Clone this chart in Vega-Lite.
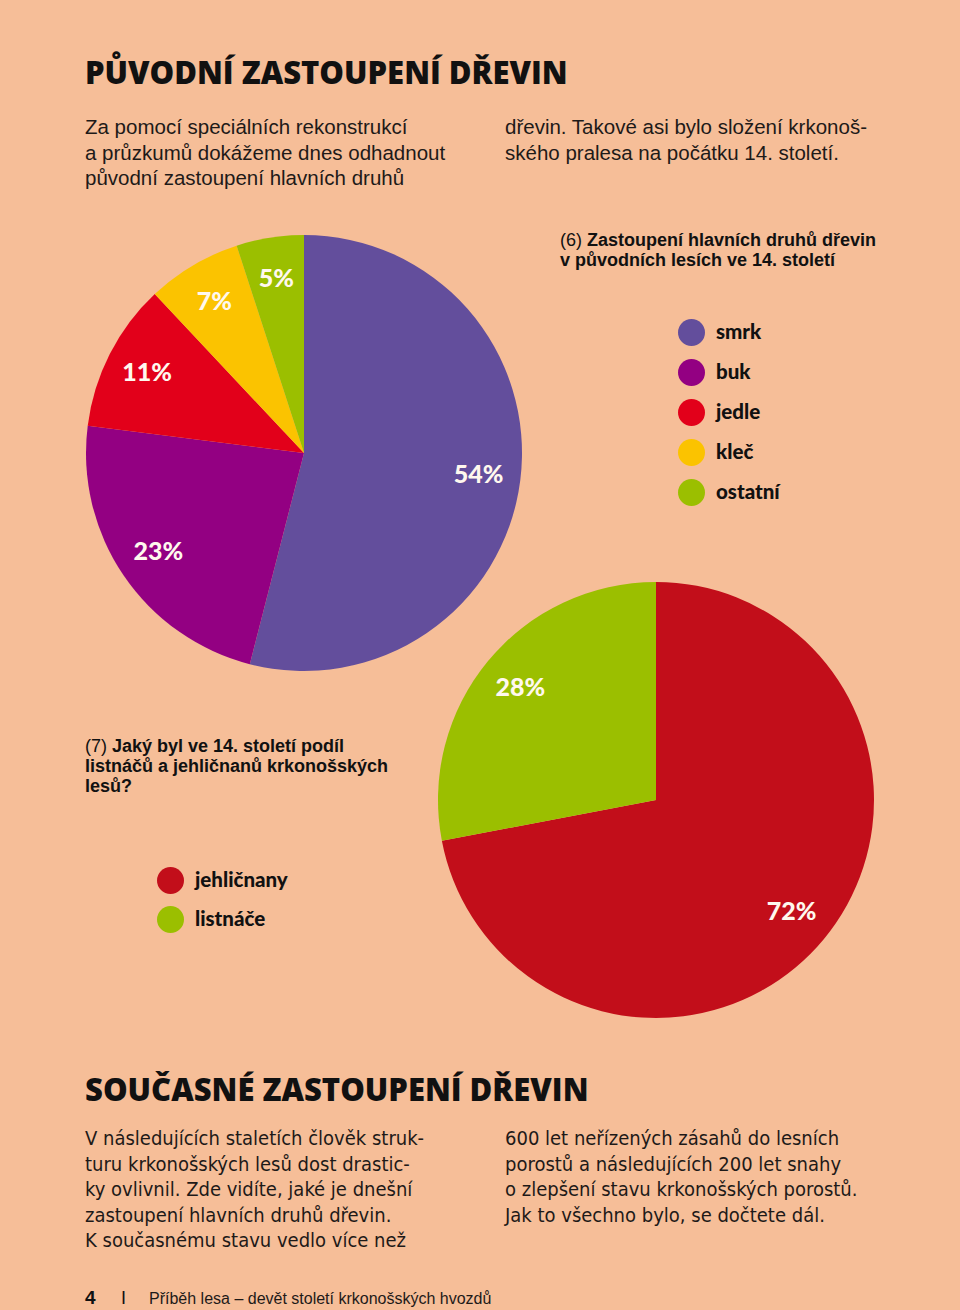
{
  "$schema": "https://vega.github.io/schema/vega-lite/v6.json",
  "width": 960,
  "height": 1310,
  "padding": 0,
  "autosize": {"type": "fit", "contains": "padding"},
  "background": "#F6BE98",
  "config": {"view": {"stroke": null}},
  "datasets": {
    "original": [
      {"druh": "smrk", "podil": 0.54},
      {"druh": "buk", "podil": 0.23},
      {"druh": "jedle", "podil": 0.11},
      {"druh": "kleč", "podil": 0.07},
      {"druh": "ostatní", "podil": 0.05}
    ],
    "skupiny": [
      {"skupina": "jehličnany", "podil": 0.72},
      {"skupina": "listnáče", "podil": 0.28}
    ]
  },
  "resolve": {"scale": {"color": "independent", "theta": "independent"}, "legend": {"color": "independent"}},
  "layer": [
    {
      "data": {"name": "original"},
      "layer": [
        {
          "mark": {"type": "arc", "x": 304, "y": 453, "outerRadius": 218},
          "encoding": {
            "theta": {"field": "podil", "type": "quantitative", "stack": true},
            "order": {"field": "podil", "sort": "descending"},
            "color": {
              "field": "druh", "type": "nominal",
              "scale": {"domain": ["smrk", "buk", "jedle", "kleč", "ostatní"], "range": ["#634E9C", "#930082", "#E2001A", "#FBC300", "#9BBF00"]},
              "legend": {"orient": "none", "legendX": 678, "legendY": 319, "title": null, "symbolType": "circle", "symbolSize": 729, "symbolStrokeWidth": 0, "symbolOpacity": 1, "labelFont": "Lato", "labelFontWeight": 900, "labelFontSize": 20.5, "labelColor": "#111111", "labelOffset": 11, "rowPadding": 13, "padding": 0}
            }
          }
        },
        {
          "mark": {"type": "text", "x": 304, "y": 453, "radius": 176, "font": "Lato", "fontWeight": 900, "fontSize": 25, "color": "#FFF8EE"},
          "encoding": {
            "theta": {"field": "podil", "type": "quantitative", "stack": true},
            "order": {"field": "podil", "sort": "descending"},
            "text": {"field": "podil", "type": "quantitative", "format": ".0%"}
          }
        }
      ]
    },
    {
      "data": {"name": "skupiny"},
      "layer": [
        {
          "mark": {"type": "arc", "x": 656, "y": 800, "outerRadius": 218},
          "encoding": {
            "theta": {"field": "podil", "type": "quantitative", "stack": true},
            "order": {"field": "podil", "sort": "descending"},
            "color": {
              "field": "skupina", "type": "nominal",
              "scale": {"domain": ["jehličnany", "listnáče"], "range": ["#C20E1A", "#9BBF00"]},
              "legend": {"orient": "none", "legendX": 157, "legendY": 867, "title": null, "symbolType": "circle", "symbolSize": 729, "symbolStrokeWidth": 0, "symbolOpacity": 1, "labelFont": "Lato", "labelFontWeight": 900, "labelFontSize": 20.5, "labelColor": "#111111", "labelOffset": 11, "rowPadding": 12, "padding": 0}
            }
          }
        },
        {
          "mark": {"type": "text", "x": 656, "y": 800, "radius": 176, "font": "Lato", "fontWeight": 900, "fontSize": 25, "color": "#FFF8EE"},
          "encoding": {
            "theta": {"field": "podil", "type": "quantitative", "stack": true},
            "order": {"field": "podil", "sort": "descending"},
            "text": {"field": "podil", "type": "quantitative", "format": ".0%"}
          }
        }
      ]
    },
    {
      "data": {"values": [{"t": "PŮVODNÍ ZASTOUPENÍ DŘEVIN"}]},
      "mark": {"type": "text", "x": 85, "y": 84, "align": "left", "baseline": "alphabetic", "font": "Open Sans", "fontWeight": 800, "fontSize": 31, "color": "#111111"},
      "encoding": {"text": {"field": "t"}}
    },
    {
      "data": {"values": [{"t": "Za pomocí speciálních rekonstrukcí\na průzkumů dokážeme dnes odhadnout\npůvodní zastoupení hlavních druhů"}]},
      "mark": {"type": "text", "x": 85, "y": 134, "align": "left", "baseline": "alphabetic", "font": "Liberation Sans, Arial, sans-serif", "fontSize": 20.5, "lineBreak": "\n", "lineHeight": 25.5, "color": "#1E1A18"},
      "encoding": {"text": {"field": "t"}}
    },
    {
      "data": {"values": [{"t": "dřevin. Takové asi bylo složení krkonoš-\nského pralesa na počátku 14. století."}]},
      "mark": {"type": "text", "x": 505, "y": 134, "align": "left", "baseline": "alphabetic", "font": "Liberation Sans, Arial, sans-serif", "fontSize": 20.5, "lineBreak": "\n", "lineHeight": 25.5, "color": "#1E1A18"},
      "encoding": {"text": {"field": "t"}}
    },
    {
      "data": {"values": [{"t": "(6)"}]},
      "mark": {"type": "text", "x": 560, "y": 246, "align": "left", "baseline": "alphabetic", "font": "Liberation Sans, Arial, sans-serif", "fontSize": 18, "color": "#111111"},
      "encoding": {"text": {"field": "t"}}
    },
    {
      "data": {"values": [{"t": "Zastoupení hlavních druhů dřevin"}]},
      "mark": {"type": "text", "x": 587, "y": 246, "align": "left", "baseline": "alphabetic", "font": "Liberation Sans, Arial, sans-serif", "fontWeight": "bold", "fontSize": 18, "color": "#111111"},
      "encoding": {"text": {"field": "t"}}
    },
    {
      "data": {"values": [{"t": "v původních lesích ve 14. století"}]},
      "mark": {"type": "text", "x": 560, "y": 266, "align": "left", "baseline": "alphabetic", "font": "Liberation Sans, Arial, sans-serif", "fontWeight": "bold", "fontSize": 18, "color": "#111111"},
      "encoding": {"text": {"field": "t"}}
    },
    {
      "data": {"values": [{"t": "(7)"}]},
      "mark": {"type": "text", "x": 85, "y": 752, "align": "left", "baseline": "alphabetic", "font": "Liberation Sans, Arial, sans-serif", "fontSize": 18, "color": "#111111"},
      "encoding": {"text": {"field": "t"}}
    },
    {
      "data": {"values": [{"t": "Jaký byl ve 14. století podíl"}]},
      "mark": {"type": "text", "x": 112, "y": 752, "align": "left", "baseline": "alphabetic", "font": "Liberation Sans, Arial, sans-serif", "fontWeight": "bold", "fontSize": 18, "color": "#111111"},
      "encoding": {"text": {"field": "t"}}
    },
    {
      "data": {"values": [{"t": "listnáčů a jehličnanů krkonošských\nlesů?"}]},
      "mark": {"type": "text", "x": 85, "y": 772, "align": "left", "baseline": "alphabetic", "font": "Liberation Sans, Arial, sans-serif", "fontWeight": "bold", "fontSize": 18, "lineBreak": "\n", "lineHeight": 20, "color": "#111111"},
      "encoding": {"text": {"field": "t"}}
    },
    {
      "data": {"values": [{"t": "SOUČASNÉ ZASTOUPENÍ DŘEVIN"}]},
      "mark": {"type": "text", "x": 85, "y": 1101, "align": "left", "baseline": "alphabetic", "font": "Open Sans", "fontWeight": 800, "fontSize": 31, "color": "#111111"},
      "encoding": {"text": {"field": "t"}}
    },
    {
      "data": {"values": [{"t": "V následujících staletích člověk struk-\nturu krkonošských lesů dost drastic-\nky ovlivnil. Zde vidíte, jaké je dnešní\nzastoupení hlavních druhů dřevin.\nK současnému stavu vedlo více než"}]},
      "mark": {"type": "text", "x": 85, "y": 1145, "align": "left", "baseline": "alphabetic", "font": "DejaVu Sans Condensed, Liberation Sans, sans-serif", "fontSize": 20, "lineBreak": "\n", "lineHeight": 25.5, "color": "#1E1A18"},
      "encoding": {"text": {"field": "t"}}
    },
    {
      "data": {"values": [{"t": "600 let neřízených zásahů do lesních\nporostů a následujících 200 let snahy\no zlepšení stavu krkonošských porostů.\nJak to všechno bylo, se dočtete dál."}]},
      "mark": {"type": "text", "x": 505, "y": 1145, "align": "left", "baseline": "alphabetic", "font": "DejaVu Sans Condensed, Liberation Sans, sans-serif", "fontSize": 20, "lineBreak": "\n", "lineHeight": 25.5, "color": "#1E1A18"},
      "encoding": {"text": {"field": "t"}}
    },
    {
      "data": {"values": [{"t": "4"}]},
      "mark": {"type": "text", "x": 85, "y": 1304, "align": "left", "baseline": "alphabetic", "font": "Liberation Sans, Arial, sans-serif", "fontWeight": "bold", "fontSize": 19, "color": "#111111"},
      "encoding": {"text": {"field": "t"}}
    },
    {
      "data": {"values": [{"t": "I"}]},
      "mark": {"type": "text", "x": 121, "y": 1304, "align": "left", "baseline": "alphabetic", "font": "Liberation Sans, Arial, sans-serif", "fontSize": 18, "color": "#111111"},
      "encoding": {"text": {"field": "t"}}
    },
    {
      "data": {"values": [{"t": "Příběh lesa – devět století krkonošských hvozdů"}]},
      "mark": {"type": "text", "x": 149, "y": 1304, "align": "left", "baseline": "alphabetic", "font": "Liberation Sans, Arial, sans-serif", "fontSize": 16, "color": "#1E1A18"},
      "encoding": {"text": {"field": "t"}}
    }
  ]
}
